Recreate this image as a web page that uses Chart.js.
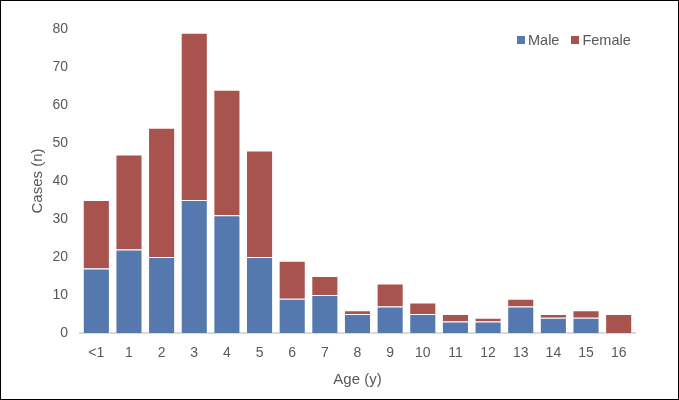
<!DOCTYPE html>
<html lang="en">
<head>
    <meta charset="UTF-8">
    <title>Cases by Age</title>
    <script src="https://cdn.jsdelivr.net/npm/chart.js"></script>
    <style>
        body {
            margin: 0;
            padding: 0;
            background-color: #fff;
            font-family: 'Liberation Sans', Arial, sans-serif;
        }
        .frame {
            width: 679px;
            height: 400px;
            box-sizing: border-box;
            border: 1px solid #000;
            position: relative;
        }
        .legend {
            position: absolute;
            top: 31px;
            left: 516px;
            font-size: 14.5px;
            color: #595959;
            white-space: nowrap;
        }
        .legend span.box {
            display: inline-block;
            width: 8px;
            height: 8px;
            margin-right: 3px;
            vertical-align: 1px;
        }
        .legend span.item {
            margin-right: 12px;
        }
    </style>
</head>
<body>
    <div class="frame">
        <canvas id="chart" width="677" height="398"></canvas>
        <div class="legend" id="legend"></div>
    </div>

    <script>
        // Values
        const ages = ["<1", "1", "2", "3", "4", "5", "6", "7", "8", "9", "10", "11", "12", "13", "14", "15", "16"];
        const male = [17, 22, 20, 35, 31, 20, 9, 10, 5, 7, 5, 3, 3, 7, 4, 4, 0];
        const female = [18, 25, 34, 44, 33, 28, 10, 5, 1, 6, 3, 2, 1, 2, 1, 2, 5];
        const yTicks = [0, 10, 20, 30, 40, 50, 60, 70, 80];

        Chart.defaults.font.family = "'Liberation Sans', Arial, sans-serif";
        Chart.defaults.color = "#595959";

        const chart = new Chart(document.getElementById("chart"), {
            type: "bar",
            data: {
                labels: ages,
                datasets: [
                    {
                        label: "Male",
                        data: male,
                        backgroundColor: "#5579AF",
                        borderColor: "rgba(255,255,255,0.7)",
                        borderWidth: 1,
                        categoryPercentage: 1,
                        barPercentage: 0.83
                    },
                    {
                        label: "Female",
                        data: female,
                        backgroundColor: "#A8534D",
                        borderColor: "rgba(255,255,255,0.7)",
                        borderWidth: 1,
                        categoryPercentage: 1,
                        barPercentage: 0.83
                    }
                ]
            },
            options: {
                responsive: false,
                animation: false,
                layout: {
                    padding: { left: 28, right: 43, top: 28, bottom: 10 }
                },
                plugins: {
                    legend: { display: false },
                    tooltip: { enabled: false }
                },
                scales: {
                    x: {
                        stacked: true,
                        grid: { display: false, drawTicks: false },
                        border: { color: "#d9d9d9", width: 2 },
                        ticks: { font: { size: 14 }, padding: 12, maxRotation: 0 },
                        title: {
                            display: true,
                            text: "Age (y)",
                            font: { size: 15 },
                            padding: { top: 4, bottom: 0 }
                        },
                        afterFit: function(axis) { axis.height = 56; }
                    },
                    y: {
                        stacked: true,
                        min: 0,
                        max: 80,
                        afterBuildTicks: function(axis) {
                            axis.ticks = yTicks.map(v => ({ value: v }));
                        },
                        grid: { display: false, drawTicks: false },
                        border: { display: false },
                        ticks: { font: { size: 14 }, padding: 12 },
                        title: {
                            display: true,
                            text: "Cases (n)",
                            font: { size: 15 },
                            padding: { top: 0, bottom: 4 }
                        },
                        afterFit: function(axis) { axis.width = 51; }
                    }
                }
            }
        });

        // Legend as real text, built from the datasets
        const legend = document.getElementById("legend");
        chart.data.datasets.forEach(ds => {
            const item = document.createElement("span");
            item.className = "item";
            const box = document.createElement("span");
            box.className = "box";
            box.style.backgroundColor = ds.backgroundColor;
            item.appendChild(box);
            item.appendChild(document.createTextNode(ds.label));
            legend.appendChild(item);
        });
    </script>
</body>
</html>
